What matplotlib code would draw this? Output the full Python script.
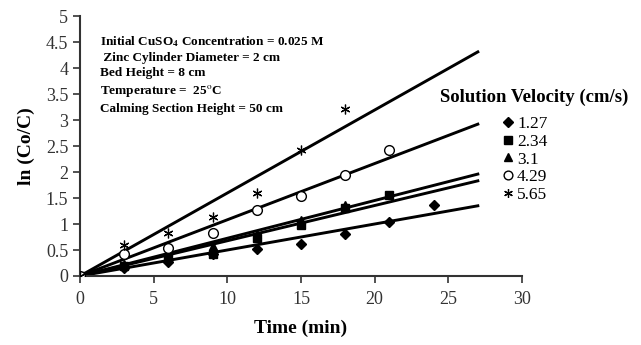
import matplotlib
matplotlib.use("Agg")
import matplotlib.pyplot as plt

plt.rcParams['font.family'] = ['Liberation Serif', 'DejaVu Serif']
plt.rcParams['mathtext.fontset'] = 'stix'

# dane
czas_127 = [0, 3, 6, 9, 12, 15, 18, 21, 24]
ln_127 = [0, 0.15, 0.26, 0.42, 0.51, 0.61, 0.81, 1.04, 1.36]
czas_234 = [0, 3, 6, 9, 12, 15, 18, 21]
ln_234 = [0, 0.2, 0.34, 0.43, 0.73, 0.98, 1.3, 1.56]
czas_31 = [0, 3, 6, 9, 12, 15, 18]
ln_31 = [0, 0.24, 0.4, 0.58, 0.8, 1.08, 1.36]
czas_429 = [0, 3, 6, 9, 12, 15, 18, 21]
ln_429 = [0, 0.42, 0.54, 0.82, 1.27, 1.53, 1.94, 2.42]
czas_565 = [0, 3, 6, 9, 12, 15, 18]
ln_565 = [0, 0.6, 0.82, 1.13, 1.6, 2.43, 3.22]

etykiety = ['1.27', '2.34', '3.1', '4.29', '5.65']
markery = ['D', 's', '^', 'o', 'x']
# linie trendu: koniec przy t = 27 min
koniec_linii = 27
ln_koniec = [1.35, 1.83, 1.96, 2.92, 4.31]

serie = [(czas_127, ln_127), (czas_234, ln_234), (czas_31, ln_31),
         (czas_429, ln_429), (czas_565, ln_565)]

fig = plt.figure(figsize=(6.41, 3.45), dpi=100)
ax = fig.add_axes([0.1248, 0.2, 0.6896, 0.7536])

uchwyty = []
for (x, y), m, lab, yk in zip(serie, markery, etykiety, ln_koniec):
    ax.plot([0, koniec_linii], [0, yk], color='black', lw=2.1, zorder=2)
    if m == 'o':
        h, = ax.plot(x, y, ls='none', marker=m, ms=7, mfc='white', mec='black', mew=1.0, label=lab, zorder=3)
    elif m == 'x':
        h, = ax.plot(x, y, ls='none', marker=(6, 2, 0), ms=7, color='black', mew=0.9, label=lab, zorder=3)
    else:
        h, = ax.plot(x, y, ls='none', marker=m, ms=6 if m != 'D' else 5.5, color='black', label=lab, zorder=3)
    uchwyty.append(h)

ax.set_xlim(0, 30)
ax.set_ylim(0, 5)
ax.set_xticks([0, 5, 10, 15, 20, 25, 30])
ax.set_yticks([0, 0.5, 1, 1.5, 2, 2.5, 3, 3.5, 4, 4.5, 5])
ax.set_yticklabels(['0', '0.5', '1', '1.5', '2', '2.5', '3', '3.5', '4', '4.5', '5'])
ax.spines['top'].set_visible(False)
ax.spines['right'].set_visible(False)
for s in ['left', 'bottom']:
    ax.spines[s].set_linewidth(1.5)
    ax.spines[s].set_color('#333333')
ax.tick_params(direction='out', length=5, width=1.2, labelsize=13, colors='#333333')
ax.tick_params(axis='x', pad=6)
ax.set_xlabel('Time (min)', fontsize=14, fontweight='bold', labelpad=8)
ax.set_ylabel('ln (Co/C)', fontsize=14, fontweight='bold', labelpad=8)

opis = ("Initial CuSO$_\\mathbf{4}$ Concentration = 0.025 M\n"
        " Zinc Cylinder Diameter = 2 cm\n"
        "Bed Height = 8 cm\n"
        "Temperature =  25$^\\mathrm{o}$C\n"
        "Calming Section Height = 50 cm")
ax.text(0.045, 0.93, opis, transform=ax.transAxes, fontsize=9.5, fontweight='bold',
        va='top', ha='left', linespacing=1.36)

fig.text(0.686, 0.718, 'Solution Velocity (cm/s)', fontsize=13.5, fontweight='bold',
         ha='left', va='center')
leg = fig.legend(handles=uchwyty, loc='upper left', bbox_to_anchor=(0.785, 0.665),
                 frameon=False, fontsize=12.5,
                 handlelength=0.6, handletextpad=0.2, labelspacing=0.1,
                 borderpad=0, borderaxespad=0, markerscale=0.9)

fig.savefig('out.png', dpi=100)
